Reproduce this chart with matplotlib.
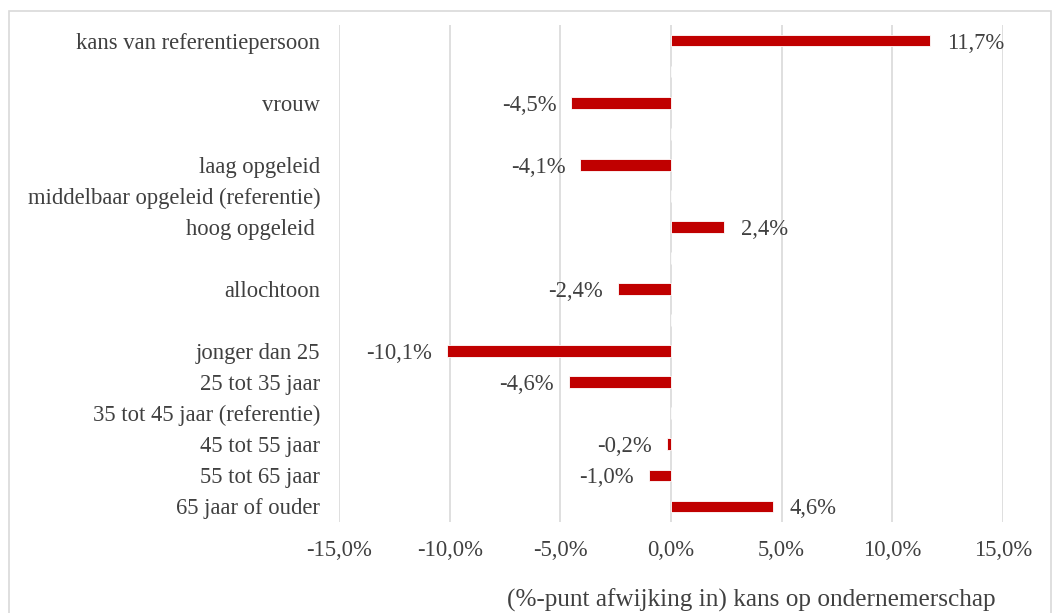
import matplotlib
matplotlib.use("Agg")
import matplotlib.pyplot as plt
from matplotlib.patches import Rectangle
import numpy as np

categories = [
    "kans van referentiepersoon", "", "vrouw", "", "laag opgeleid",
    "middelbaar opgeleid (referentie)", "hoog opgeleid ", "", "allochtoon", "",
    "jonger dan 25", "25 tot 35 jaar", "35 tot 45 jaar (referentie)",
    "45 tot 55 jaar", "55 tot 65 jaar", "65 jaar of ouder",
]
values = [11.7, None, -4.5, None, -4.1, None, 2.4, None, -2.4, None,
          -10.1, -4.6, None, -0.2, -1.0, 4.6]
xticks = [-15, -10, -5, 0, 5, 10, 15]
xlabel = "(%-punt afwijking in) kans op ondernemerschap"

plt.rcParams['font.family'] = ['Liberation Serif', 'DejaVu Serif']
txt = '#404040'
fs = 16.3

fig = plt.figure(figsize=(10.54, 6.13), dpi=100)
ax = fig.add_axes([339/1054, 1-522/613, 664/1054, 497/613])

y = np.arange(len(categories))
vals = np.array([np.nan if v is None else v for v in values])
ax.barh(y, np.nan_to_num(vals), height=0.38, color='#c00000', edgecolor='white', linewidth=0.6, zorder=3)

for yi, v in zip(y, values):
    if v is None:
        continue
    s = f"{v:.1f}%".replace('.', ',')
    if v >= 0:
        ax.annotate(s, (v, yi), xytext=(17, 0), textcoords='offset pixels',
                    ha='left', va='center_baseline', fontsize=fs, color=txt)
    else:
        ax.annotate(s, (v, yi), xytext=(-15, 0), textcoords='offset pixels',
                    ha='right', va='center_baseline', fontsize=fs, color=txt)

ax.set_ylim(len(categories) - 0.5, -0.5)
ax.set_xlim(-15, 15)
ax.set_yticks(y)
ax.set_yticklabels(categories, fontsize=fs, color=txt)
ax.set_xticks(xticks)
ax.set_xticklabels([f"{t:.1f}%".replace('.', ',') for t in xticks], fontsize=fs, color=txt)
ax.tick_params(axis='both', length=0)
ax.tick_params(axis='y', pad=13.5)
ax.tick_params(axis='x', pad=13)
for sp in ax.spines.values():
    sp.set_visible(False)
ax.grid(axis='x', color='#d9d9d9', linewidth=1.2, zorder=0)
ax.set_axisbelow(True)

fig.text(751/1054, 1-600/613, xlabel, ha='center', va='center', fontsize=18.2, color=txt)

fig.add_artist(Rectangle((9/1054, -0.05), (1051-9)/1054, 1-11/613+0.05,
                         transform=fig.transFigure, fill=False, edgecolor='#d9d9d9', linewidth=1.2))

fig.savefig("out.png", dpi=100)
